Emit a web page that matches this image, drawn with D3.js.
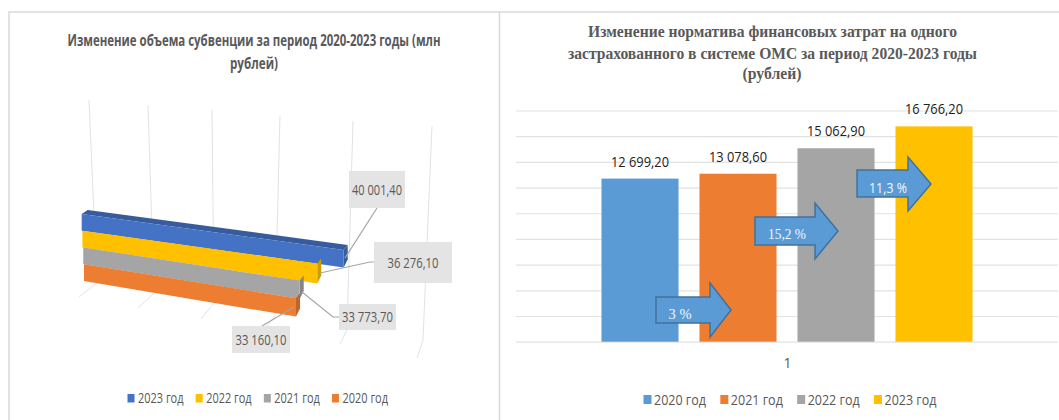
<!DOCTYPE html>
<html lang="ru">
<head>
<meta charset="utf-8">
<title>Субвенция и норматив 2020-2023</title>
<script src="https://d3js.org/d3.v7.min.js"></script>
<style>
html, body { margin: 0; padding: 0; background: #fff; overflow: hidden; }
svg { display: block; }
</style>
</head>
<body>
<div id="chart"></div>
<script>
// Data
const subsidyYears = ["2023 год", "2022 год", "2021 год", "2020 год"];
const subsidyValues = [40001.4, 36276.1, 33773.7, 33160.1];
const subsidyLabels = ["40 001,40", "36 276,10", "33 773,70", "33 160,10"];
const subsidyColors = ["#4472C4", "#FFC000", "#A5A5A5", "#ED7D31"];

const normYears = ["2020 год", "2021 год", "2022 год", "2023 год"];
const normValues = [12699.2, 13078.6, 15062.9, 16766.2];
const normLabels = ["12 699,20", "13 078,60", "15 062,90", "16 766,20"];
const normColors = ["#5B9BD5", "#ED7D31", "#A5A5A5", "#FFC000"];
const growthLabels = ["3 %", "15,2 %", "11,3 %"];
const normTicks = d3.range(0, 18001, 2000);

const svg = d3.select("#chart").append("svg")
    .attr("width", 1059)
    .attr("height", 420);

const sansFont = "'Open Sans', 'Noto Sans', sans-serif";
const serifFont = "'Liberation Serif', serif";
const textGrey = "#595959";
const lineGrey = "#e2e2e2";

// Text squeezed to a measured width, the original is a narrow font
function addText(g, str, x, y, size, fill, opts = {}) {
    const t = g.append("text")
        .attr("x", x)
        .attr("y", y)
        .attr("text-anchor", opts.anchor || "middle")
        .attr("font-family", opts.font || sansFont)
        .attr("font-size", size)
        .attr("font-weight", opts.weight || "normal")
        .attr("fill", fill)
        .text(str);
    if (opts.width) {
        t.attr("textLength", opts.width).attr("lengthAdjust", "spacingAndGlyphs");
    }
    return t;
}

// Outer frames of the two pictures
svg.append("path")
    .attr("d", "M9,420V12H1059M499.5,12V420")
    .attr("fill", "none")
    .attr("stroke", "#d9d9d9")
    .attr("stroke-width", 1.5);

// ---------- Left chart: 3D bars ----------
const left = svg.append("g");

addText(left, "Изменение объема субвенции за период 2020-2023 годы (млн", 254, 46, 16, textGrey, { weight: "bold", width: 373 });
addText(left, "рублей)", 254, 69, 16, textGrey, { weight: "bold", width: 48 });

// Wall and floor lines of the 3D box, spread by perspective
const gridTicks = [0, 1, 2, 3, 4, 5];
const wallTopX = d3.scaleLinear().domain(gridTicks).range([89, 148, 212, 280, 353, 432]);
const wallTopY = d3.scaleLinear().domain([0, 5]).range([100, 126]);
const wallBaseX = d3.scaleLinear().domain(gridTicks).range([97, 154, 214, 275, 347, 423]);
const wallBaseY = d3.scaleLinear().domain(gridTicks).range([283, 293, 303, 316, 330, 340]);
const floorX = d3.scaleLinear().domain(gridTicks).range([79, 138, 201, 263, 340, 417]);
const floorY = d3.scaleLinear().domain(gridTicks).range([297, 308, 319, 331, 344, 358]);

left.selectAll(".wall")
    .data(gridTicks)
    .enter()
    .append("path")
    .attr("class", "wall")
    .attr("fill", "none")
    .attr("stroke", lineGrey)
    .attr("stroke-width", 1)
    .attr("d", d => d3.line()([
        [wallTopX(d), wallTopY(d)],
        [wallBaseX(d), wallBaseY(d)],
        [floorX(d), floorY(d)]
    ]));

// Bar length along the slanted axis
const barLen = d3.scaleLinear().domain([4160, 40001.4]).range([0, 262]);
const barDepth = 4;
const rowX = d3.scaleLinear().domain([0, 3]).range([81.7, 84]);
// Edges between the rows fan out towards the right end
const edgeY = d3.scaleLinear().domain([0, 4]).range([214, 281]);
const edgeSlope = d3.scaleLinear().domain([0, 1, 2, 3, 4]).range([0.137, 0.14, 0.153, 0.16, 0.168]);

const bars3d = subsidyValues.map((v, i) => {
    const x0 = rowX(i);
    const x1 = x0 + barLen(v);
    const dx = x1 - x0;
    return {
        x0, x1,
        top0: edgeY(i),
        bot0: edgeY(i + 1),
        top1: edgeY(i) + edgeSlope(i) * dx,
        bot1: edgeY(i + 1) + edgeSlope(i + 1) * dx,
        color: subsidyColors[i]
    };
});

const poly = pts => d3.line()(pts) + "Z";

// Top face only shows on the first bar, others sit under it
left.append("path")
    .attr("fill", d3.color(subsidyColors[0]).darker(0.6))
    .attr("d", () => {
        const b = bars3d[0];
        return poly([[b.x0, b.top0], [b.x0 + barDepth + 2, b.top0 - barDepth], [b.x1 + barDepth, b.top1 - barDepth - 1], [b.x1, b.top1]]);
    });

const bar3d = left.selectAll(".bar3d")
    .data(bars3d)
    .enter()
    .append("g")
    .attr("class", "bar3d");

bar3d.append("path")
    .attr("fill", d => d3.color(d.color).darker(0.6))
    .attr("d", d => poly([
        [d.x1, d.top1],
        [d.x1 + barDepth, d.top1 - barDepth - 1],
        [d.x1 + barDepth, d.bot1 - barDepth - 4],
        [d.x1, d.bot1]
    ]));

bar3d.append("path")
    .attr("fill", d => d.color)
    .attr("d", d => poly([
        [d.x0, d.top0],
        [d.x1, d.top1],
        [d.x1, d.bot1],
        [d.x0, d.bot0]
    ]));

// Callouts with leader lines
const calloutBoxes = [
    { x: 349, y: 171, w: 56, h: 37, tw: 50, line: [[377, 208], [345, 258]] },
    { x: 374, y: 242, w: 78, h: 41, tw: 51, line: [[374, 262], [370, 262], [320, 273]] },
    { x: 339, y: 304, w: 57, h: 26, tw: 51, line: [[339, 317], [333, 317], [302, 292]] },
    { x: 232, y: 326, w: 58, h: 27, tw: 51, line: [[262, 326], [294, 307]] }
];

calloutBoxes.forEach((c, i) => {
    left.append("path")
        .attr("d", d3.line()(c.line))
        .attr("fill", "none")
        .attr("stroke", "#a6a6a6")
        .attr("stroke-width", 1.2);
    left.append("rect")
        .attr("x", c.x)
        .attr("y", c.y)
        .attr("width", c.w)
        .attr("height", c.h)
        .attr("fill", "#e4e4e4");
    addText(left, subsidyLabels[i], c.x + c.w / 2, c.y + c.h / 2 + 5, 14, textGrey, { width: c.tw });
});

// Legend of the left chart
const legendLeftX = d3.scalePoint().domain(subsidyYears).range([127.5, 332]);
subsidyYears.forEach((name, i) => {
    const x = legendLeftX(name);
    left.append("rect").attr("x", x).attr("y", 394).attr("width", 7).attr("height", 8.5).attr("fill", subsidyColors[i]);
    addText(left, name, x + 10.5, 403, 14, textGrey, { anchor: "start", width: 45.5 });
});

// ---------- Right chart: columns ----------
const right = svg.append("g");

addText(right, "Изменение норматива финансовых затрат  на одного", 772.5, 37, 16, textGrey, { font: serifFont, weight: "bold", width: 369 });
addText(right, "застрахованного в  системе ОМС за период 2020-2023 годы", 772.5, 59, 16, textGrey, { font: serifFont, weight: "bold", width: 409 });
addText(right, "(рублей)", 772, 79, 16, textGrey, { font: serifFont, weight: "bold", width: 59 });

const y = d3.scaleLinear().domain([0, 18000]).range([341.7, 110.5]);
const x = d3.scaleBand().domain(normYears).range([591, 983]).paddingInner(0.214).paddingOuter(0.107);

const yGrid = right.append("g")
    .attr("transform", "translate(516,0)")
    .call(d3.axisLeft(y).tickValues(normTicks).tickSize(-542).tickFormat(""));
yGrid.select(".domain").remove();
yGrid.selectAll("line").attr("stroke", lineGrey).attr("stroke-width", 1.2);

right.selectAll(".bar")
    .data(normValues)
    .enter()
    .append("rect")
    .attr("class", "bar")
    .attr("x", (d, i) => x(normYears[i]))
    .attr("y", d => y(d))
    .attr("width", x.bandwidth())
    .attr("height", d => y(0) - y(d))
    .attr("fill", (d, i) => normColors[i]);

normValues.forEach((v, i) => {
    addText(right, normLabels[i], x(normYears[i]) + x.bandwidth() / 2, y(v) - 12, 15, "#222", { width: 58 });
});

addText(right, "1", 787.5, 368, 14, textGrey);

// Block arrows with growth figures
const arrowBoxes = [
    { x0: 656, x1: 710, tip: 731, top: 297, bot: 323, headTop: 283, headBot: 337, tx: 680, ty: 319, tw: 23, font: serifFont },
    { x0: 755, x1: 815, tip: 838, top: 217, bot: 245, headTop: 203, headBot: 259, tx: 787, ty: 239, tw: 38, font: serifFont },
    { x0: 857, x1: 908, tip: 931, top: 170, bot: 197, headTop: 157, headBot: 211, tx: 888, ty: 193, tw: 38, font: sansFont }
];

arrowBoxes.forEach((a, i) => {
    const mid = (a.headTop + a.headBot) / 2;
    right.append("path")
        .attr("d", poly([
            [a.x0, a.top], [a.x1, a.top], [a.x1, a.headTop], [a.tip, mid],
            [a.x1, a.headBot], [a.x1, a.bot], [a.x0, a.bot]
        ]))
        .attr("fill", "#5B9BD5")
        .attr("stroke", "#41719C")
        .attr("stroke-width", 1.5);
    addText(right, growthLabels[i], a.tx, a.ty, 14, "#f2f7fc", { font: a.font, width: a.tw });
});

// Legend of the right chart
const legendRightX = d3.scalePoint().domain(normYears).range([643.5, 874]);
normYears.forEach((name, i) => {
    const lx = legendRightX(name);
    right.append("rect").attr("x", lx).attr("y", 395).attr("width", 8).attr("height", 9).attr("fill", normColors[i]);
    addText(right, name, lx + 10.5, 405, 14, textGrey, { anchor: "start", width: 52 });
});
</script>
</body>
</html>
